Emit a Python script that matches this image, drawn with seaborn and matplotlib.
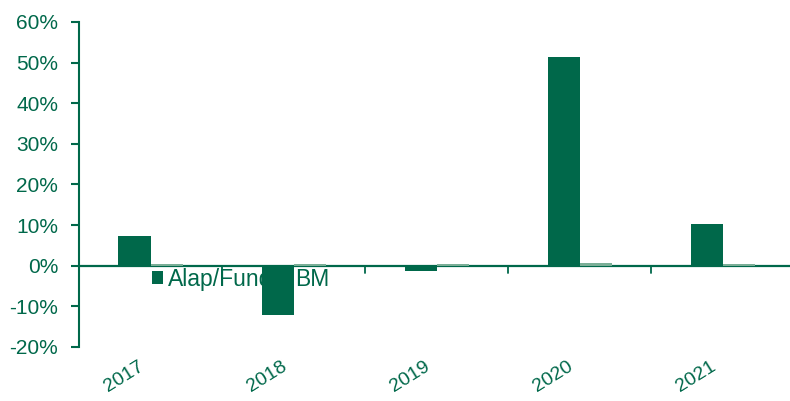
import numpy as np
import pandas as pd
import matplotlib
matplotlib.use('Agg')
import matplotlib.pyplot as plt
import matplotlib.transforms as mtransforms
import seaborn as sns

years = ['2017', '2018', '2019', '2020', '2021']
fund = [7.4, -12.1, -1.2, 51.5, 10.3]
bm = [0.5, 0.4, 0.4, 0.6, 0.5]
series = ['Alap/Fund', 'BM']

green = '#00684a'
light = '#7aae97'

df = pd.DataFrame({
    'year': years * 2,
    'value': fund + bm,
    'series': [series[0]] * len(years) + [series[1]] * len(years),
})

sns.set_style('white')
plt.rcParams['font.family'] = ['Liberation Sans', 'DejaVu Sans']

fig = plt.figure(figsize=(7.9, 4.01), dpi=100)
ax = fig.add_axes([0.1, 0.1347, 0.9, 0.8105])

sns.barplot(data=df, x='year', y='value', hue='series', order=years,
            hue_order=series, palette=[green, light], width=0.448, gap=0,
            saturation=1, linewidth=0, ax=ax, zorder=3)

ax.set_ylim(-20, 60)
ax.set_xlim(-0.5, 4.47)
ax.set_yticks(np.arange(-20, 61, 10))
ax.set_yticklabels([f'{v}%' for v in range(-20, 61, 10)])
ax.set_xlabel('')
ax.set_ylabel('')

# spines / zero line
for s in ['top', 'right', 'bottom']:
    ax.spines[s].set_visible(False)
ax.spines['left'].set_color(green)
ax.spines['left'].set_linewidth(1.5)
ax.axhline(0, color=green, lw=1.6, zorder=2)

# category boundary ticks on the zero line
for b in np.arange(0.5, len(years), 1):
    ax.plot([b, b], [0, -1.7], color=green, lw=1.3, zorder=2)

ax.tick_params(axis='y', colors=green, labelsize=15, length=6, width=1.5,
               direction='out', left=True, pad=9)
ax.tick_params(axis='x', colors=green, labelsize=14, length=0, pad=8)
for lab in ax.get_xticklabels():
    lab.set_fontsize(14)
    lab.set_rotation(32)
    lab.set_ha('right')
    lab.set_va('top')
    lab.set_transform(lab.get_transform() +
                      mtransforms.ScaledTranslation(-4 / 100, 0, fig.dpi_scale_trans))

leg = ax.legend(loc='center left', bbox_to_anchor=(0.102, 0.209), ncol=2,
                frameon=False, fontsize=16.5, handlelength=0.5, handleheight=0.5,
                handletextpad=0.2, columnspacing=0.3, borderpad=0,
                borderaxespad=0)
for t in leg.get_texts():
    t.set_color(green)
leg.set_zorder(1)

fig.savefig('out.png', dpi=100)
